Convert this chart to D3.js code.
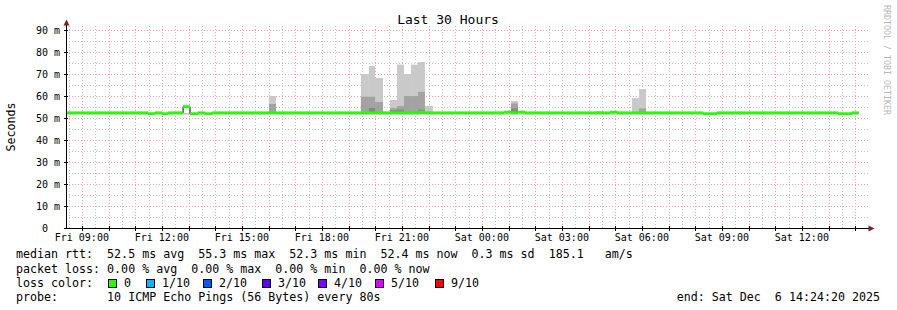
<!DOCTYPE html>
<html><head><meta charset="utf-8">
<script src="https://cdn.jsdelivr.net/npm/d3@7"></script>
<style>
html,body{margin:0;padding:0;background:#fff;}
svg{display:block;}
text{font-family:"DejaVu Sans Mono",monospace;white-space:pre;}
</style></head>
<body><svg id="c" width="897" height="310"></svg>
<script>
// ---------- data ----------
const title = "Last 30 Hours";
const startTime = Date.UTC(2025, 11, 5, 8, 24, 20);
const endTime = Date.UTC(2025, 11, 6, 14, 24, 20);
const yTickValues = [0, 10, 20, 30, 40, 50, 60, 70, 80, 90];
const yTickLabels = ["0  ", "10 m", "20 m", "30 m", "40 m", "50 m", "60 m", "70 m", "80 m", "90 m"];
// median rtt (ms) as steps: value holds from the given hour (since start) to the next one
const medianHours = [0, 3.075, 3.34, 3.6, 3.825, 4.39, 4.65, 4.95, 5.21, 5.475, 13.2, 13.46, 16.42, 16.69, 16.95, 17.21, 20.4, 20.66, 23.89, 24.41, 28.95, 29.47];
const medianValues = [52.5, 52.1, 52.5, 52.1, 52.5, 55.3, 52.1, 52.5, 52.1, 52.5, 52.8, 52.5, 52.8, 52.5, 52.8, 52.5, 52.8, 52.5, 52.1, 52.5, 52.1, 52.5];
const dataEndHour = 29.72;
// smoke (ping spread) bars
const smokeStart = [7.61, 11.06, 11.36, 11.59, 12.15, 12.41, 12.675, 12.94, 13.2, 13.46, 16.69, 19.875, 21.22, 21.49];
const smokeEnd   = [7.875, 11.36, 11.59, 11.89, 12.41, 12.675, 12.94, 13.2, 13.46, 13.76, 16.95, 20.14, 21.49, 21.75];
const smokeMax   = [60.1, 70.1, 73.8, 68.3, 58.3, 74.4, 70.1, 74.4, 75.6, 55.6, 57.9, 53.3, 59.2, 63.3];
const smokeMid   = [56.5, 59.8, 59.8, 57.4, 54.7, 55.6, 60.1, 60.1, 62.0, null, 56.8, null, null, 54.5];
const smokeLow   = [null, null, 54.7, null, 53.6, 54.0, null, null, 53.9, null, 54.5, null, null, null];
const smokeBase = 52.1;
const smokeFloor = 51.6;
const statsLine = "median rtt:  52.5 ms avg  55.3 ms max  52.3 ms min  52.4 ms now  0.3 ms sd  185.1   am/s";
const lossLine = "packet loss: 0.00 % avg  0.00 % max  0.00 % min  0.00 % now";
const lossLabels = ["0", "1/10", "2/10", "3/10", "4/10", "5/10", "9/10"];
const lossColors = ["#26ff00", "#00b8ff", "#0059ff", "#5e00ff", "#7e00ff", "#dd00ff", "#ff0000"];
const probeLine = "probe:       10 ICMP Echo Pings (56 Bytes) every 80s";
const endLine = "end: Sat Dec  6 14:24:20 2025";
const sideText = "RRDTOOL / TOBI OETIKER";

// ---------- drawing ----------
const svg = d3.select("#c");
const X0 = 66, X1 = 866, Y0 = 228.3, Ytop = 26;
const x = d3.scaleUtc().domain([new Date(startTime), new Date(endTime)]).range([X0, X1]);
const y = d3.scaleLinear().domain([0, 90]).range([Y0, 30.3]);
const hx = h => x(new Date(startTime + h * 3600000));

// grid
const g = svg.append("g");
const minorY = d3.range(5, 90, 10);
g.selectAll(".hm").data(minorY).enter().append("line")
  .attr("x1", X0).attr("x2", 868).attr("y1", d => Math.round(y(d)) + 0.5).attr("y2", d => Math.round(y(d)) + 0.5)
  .attr("stroke", "#c4c4c4").attr("stroke-dasharray", "1,2");
const halfHours = d3.utcMinute.every(30).range(new Date(startTime), new Date(endTime)).filter(d => d.getUTCMinutes() === 30);
g.selectAll(".vm").data(halfHours).enter().append("line")
  .attr("x1", d => Math.round(x(d)) + 0.5).attr("x2", d => Math.round(x(d)) + 0.5).attr("y1", Ytop).attr("y2", Y0)
  .attr("stroke", "#c4c4c4").attr("stroke-dasharray", "1,2");
g.selectAll(".hM").data(yTickValues.filter(v => v > 0)).enter().append("line")
  .attr("x1", X0).attr("x2", 868).attr("y1", d => Math.round(y(d)) + 0.5).attr("y2", d => Math.round(y(d)) + 0.5)
  .attr("stroke", "#f0a0a0").attr("stroke-dasharray", "1,2");
const hours = d3.utcHour.every(1).range(new Date(startTime), new Date(endTime));
g.selectAll(".vM").data(hours).enter().append("line")
  .attr("x1", d => Math.round(x(d)) + 0.5).attr("x2", d => Math.round(x(d)) + 0.5).attr("y1", Ytop).attr("y2", Y0)
  .attr("stroke", "#f0a0a0").attr("stroke-dasharray", "1,2");

// smoke floor band
svg.append("rect").attr("x", hx(0)).attr("width", hx(dataEndHour) - hx(0))
  .attr("y", y(52.5)).attr("height", y(smokeFloor) - y(52.5)).attr("fill", "#c9c9c9");

// smoke bars
const idx = d3.range(smokeStart.length);
svg.selectAll(".s1").data(idx).enter().append("rect")
  .attr("x", i => hx(smokeStart[i])).attr("width", i => hx(smokeEnd[i]) - hx(smokeStart[i]))
  .attr("y", i => y(smokeMax[i])).attr("height", i => y(smokeBase) - y(smokeMax[i])).attr("fill", "#c9c9c9");
svg.selectAll(".s2").data(idx.filter(i => smokeMid[i] != null)).enter().append("rect")
  .attr("x", i => hx(smokeStart[i])).attr("width", i => hx(smokeEnd[i]) - hx(smokeStart[i]))
  .attr("y", i => y(smokeMid[i])).attr("height", i => y(smokeBase) - y(smokeMid[i])).attr("fill", "#a3a3a3");
svg.selectAll(".s3").data(idx.filter(i => smokeLow[i] != null)).enter().append("rect")
  .attr("x", i => hx(smokeStart[i])).attr("width", i => hx(smokeEnd[i]) - hx(smokeStart[i]))
  .attr("y", i => y(smokeLow[i])).attr("height", i => y(smokeBase) - y(smokeLow[i])).attr("fill", "#878787");

// median: black step line + green band
const segs = medianHours.map((h, i) => ({h0: h, h1: i + 1 < medianHours.length ? medianHours[i + 1] : dataEndHour, v: medianValues[i]}));
const stepPts = [];
segs.forEach(s => { stepPts.push([hx(s.h0), y(s.v)]); stepPts.push([hx(s.h1), y(s.v)]); });
svg.append("path").attr("d", d3.line()(stepPts)).attr("fill", "none").attr("stroke", "#000").attr("stroke-width", 1);
svg.selectAll(".med").data(segs).enter().append("rect")
  .attr("x", s => hx(s.h0)).attr("width", s => hx(s.h1) - hx(s.h0))
  .attr("y", s => y(s.v) - 1.4).attr("height", 2.8).attr("fill", lossColors[0]);

// axes
svg.append("line").attr("x1", X0 + 0.5).attr("x2", X0 + 0.5).attr("y1", Y0).attr("y2", 23).attr("stroke", "#000");
svg.append("line").attr("x1", X0).attr("x2", 869).attr("y1", 228.5).attr("y2", 228.5).attr("stroke", "#000");
svg.append("path").attr("d", `M${X0 - 2.5},25.5 L${X0 + 0.5},19.5 L${X0 + 3.5},25.5 Z`).attr("fill", "#7f1f1f");
svg.append("path").attr("d", `M868.5,225.5 L874.5,228.5 L868.5,231.5 Z`).attr("fill", "#7f1f1f");

// y ticks & labels
svg.selectAll(".yt").data(yTickValues).enter().append("line")
  .attr("x1", X0 - 2).attr("x2", X0 + 2).attr("y1", d => Math.round(y(d)) + 0.5).attr("y2", d => Math.round(y(d)) + 0.5)
  .attr("stroke", "#000");
svg.selectAll(".yl").data(yTickValues).enter().append("text")
  .attr("x", 60).attr("y", d => y(d) + 3.6).attr("text-anchor", "end")
  .attr("font-size", "10px").attr("fill", "#000").text((d, i) => yTickLabels[i]);

// x ticks & labels
svg.selectAll(".xt").data(hours).enter().append("line")
  .attr("x1", d => Math.round(x(d)) + 0.5).attr("x2", d => Math.round(x(d)) + 0.5).attr("y1", 226).attr("y2", 231)
  .attr("stroke", "#000");
const labelHours = hours.filter(d => d.getUTCHours() % 3 === 0);
svg.selectAll(".xl").data(labelHours).enter().append("text")
  .attr("x", d => x(d)).attr("y", 241).attr("text-anchor", "middle")
  .attr("font-size", "10px").attr("fill", "#000").text(d => d3.utcFormat("%a %H:%M")(d));

// title, axis title, side text
svg.append("text").attr("x", 448).attr("y", 24).attr("text-anchor", "middle").attr("font-size", "13px").text(title);
svg.append("text").attr("transform", "translate(15,127) rotate(-90)").attr("text-anchor", "middle")
  .attr("font-size", "11.6px").text("Seconds");
svg.append("text").attr("transform", "translate(884,60) rotate(90)").attr("text-anchor", "middle")
  .attr("font-size", "8.3px").attr("fill", "#b8b8b8").text(sideText);

// legend
const lg = svg.append("g").attr("font-size", "11.65px").attr("fill", "#000");
lg.append("text").attr("x", 16).attr("y", 258).text(statsLine);
lg.append("text").attr("x", 16).attr("y", 272.5).text(lossLine);
lg.append("text").attr("x", 16).attr("y", 287).text("loss color:");
const boxX = [108, 146, 203, 262, 318, 375, 435];
lossLabels.forEach((l, i) => {
  lg.append("rect").attr("x", boxX[i] + 0.5).attr("y", 279.5).attr("width", 8).attr("height", 8)
    .attr("fill", lossColors[i]).attr("stroke", "#000").attr("stroke-width", 1);
  lg.append("text").attr("x", boxX[i] + 16).attr("y", 287).text(l);
});
lg.append("text").attr("x", 16).attr("y", 301).text(probeLine);
lg.append("text").attr("x", 880).attr("y", 301).attr("text-anchor", "end").text(endLine);
</script></body></html>
